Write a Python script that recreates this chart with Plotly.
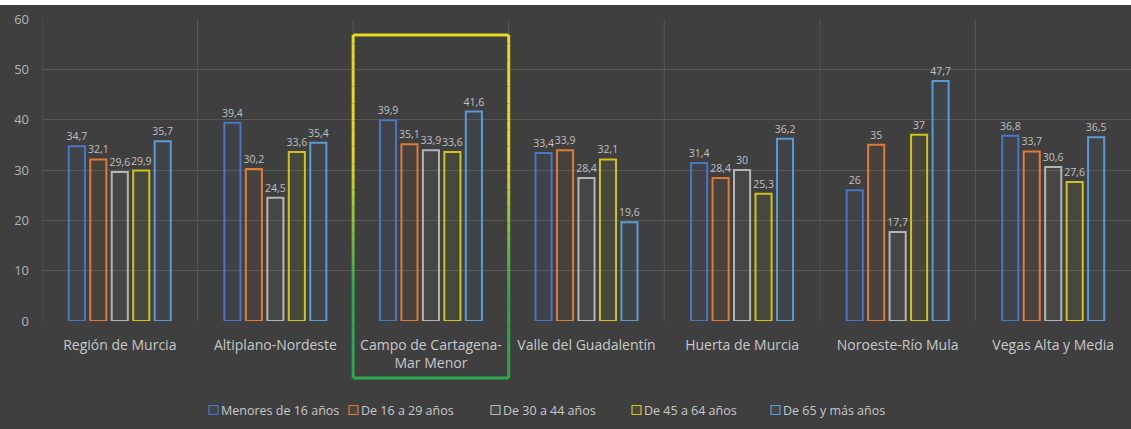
import plotly.graph_objects as go

# datos
comarcas = [
    "Región de Murcia",
    "Altiplano-Nordeste",
    "Campo de Cartagena-<br>Mar Menor",
    "Valle del Guadalentín",
    "Huerta de Murcia",
    "Noroeste-Río Mula",
    "Vegas Alta y Media",
]
grupos = [
    "Menores de 16 años",
    "De 16 a 29 años",
    "De 30 a 44 años",
    "De 45 a 64 años",
    "De 65 y más años",
]
menores_16 = [34.7, 39.4, 39.9, 33.4, 31.4, 26, 36.8]
de_16_29 = [32.1, 30.2, 35.1, 33.9, 28.4, 35, 33.7]
de_30_44 = [29.6, 24.5, 33.9, 28.4, 30, 17.7, 30.6]
de_45_64 = [29.9, 33.6, 33.6, 32.1, 25.3, 37, 27.6]
de_65_mas = [35.7, 35.4, 41.6, 19.6, 36.2, 47.7, 36.5]
y_ticks = [0, 10, 20, 30, 40, 50, 60]

series = [menores_16, de_16_29, de_30_44, de_45_64, de_65_mas]
colores = ["#4A76C6", "#E07B36", "#B4B4B4", "#CFC41E", "#5B9BD5"]

BG = "#3f3f3f"
GRID = "#575757"
TXT = "#c8c8c8"
FONT = "Open Sans, Noto Sans, sans-serif"

# área de trazado en píxeles (para convertir posiciones del marco y la leyenda)
W, H = 1131, 429
M_L, M_R, M_T, M_B = 42, 0, 19, 108
PW, PH = W - M_L - M_R, H - M_T - M_B


def px_x(p):
    return (p - M_L) / PW


def px_y(p):
    return (H - M_B - p) / PH


def _rgba(hex_color: str, alpha: float) -> str:
    h = hex_color.lstrip("#")
    return f"rgba({int(h[0:2], 16)}, {int(h[2:4], 16)}, {int(h[4:6], 16)}, {alpha})"


def _mix(c1, c2, t):
    a = [int(c1[i:i + 2], 16) for i in (1, 3, 5)]
    b = [int(c2[i:i + 2], 16) for i in (1, 3, 5)]
    return "rgb({}, {}, {})".format(*[round(a[k] + (b[k] - a[k]) * t) for k in range(3)])


fig = go.Figure()
for nombre, valores, color in zip(grupos, series, colores):
    fig.add_trace(
        go.Bar(
            x=comarcas,
            y=valores,
            name=nombre,
            marker={"color": _rgba(color, 0.06), "line": {"color": color, "width": 2}},
            texttemplate="%{y}",
            textposition="outside",
            constraintext="none",
            textfont={"size": 10.5, "color": "#c0c0c0", "family": FONT},
            cliponaxis=False,
            showlegend=False,
        )
    )

# leyenda dibujada a mano: cuadrado pequeño + texto pegado
leyenda_px = [209, 349, 491, 632, 771]
ley_y = px_y(410)
for nombre, color, p in zip(grupos, colores, leyenda_px):
    fig.add_shape(type="rect", xref="paper", yref="paper",
                  x0=px_x(p), x1=px_x(p + 9), y0=ley_y - 4.5 / PH, y1=ley_y + 4.5 / PH,
                  line={"color": color, "width": 1.2}, fillcolor=_rgba(color, 0.08))
    fig.add_annotation(x=px_x(p + 10), y=ley_y, xref="paper", yref="paper", text=nombre,
                       showarrow=False, xanchor="left", yanchor="middle",
                       font={"size": 12.5, "color": TXT, "family": FONT})

# marco degradado (amarillo -> verde) alrededor de Campo de Cartagena
top_y, bot_y = px_y(35), px_y(378)
amarillo, verde = "#E4DA22", "#2EA84E"
pasos = 40
for i in range(pasos):
    ya = top_y - (top_y - bot_y) * i / pasos
    yb = top_y - (top_y - bot_y) * (i + 1) / pasos
    t = (i + 0.5) / pasos
    k = min(max((t - 0.35) / 0.4, 0), 1)
    col = _mix(amarillo, verde, k)
    for xs in (1.5, 2.5):
        fig.add_shape(type="line", xref="x", yref="paper", x0=xs, x1=xs, y0=ya, y1=yb,
                      line={"color": col, "width": 3})
fig.add_shape(type="line", xref="x", yref="paper", x0=1.5, x1=2.5, y0=top_y, y1=top_y,
              line={"color": amarillo, "width": 3})
fig.add_shape(type="line", xref="x", yref="paper", x0=1.5, x1=2.5, y0=bot_y, y1=bot_y,
              line={"color": verde, "width": 3})

# franja blanca superior
fig.add_shape(type="rect", xref="paper", yref="paper", x0=-0.05, x1=1.05, y0=px_y(5), y1=px_y(-5),
              fillcolor="white", line={"width": 0}, layer="above")

fig.update_layout(
    width=W,
    height=H,
    paper_bgcolor=BG,
    plot_bgcolor=BG,
    margin={"l": M_L, "r": M_R, "t": M_T, "b": M_B},
    barmode="group",
    bargap=0.31,
    bargroupgap=0.25,
    separators=",.",
    font={"family": FONT, "color": TXT, "size": 12},
    showlegend=False,
    xaxis={
        "showgrid": False,
        "showline": False,
        "ticks": "",
        "ticklabelstandoff": 14,
        "tickfont": {"size": 14, "color": TXT},
        "range": [-0.5, 6.5],
    },
    yaxis={
        "range": [0, 60],
        "tickvals": y_ticks,
        "gridcolor": GRID,
        "gridwidth": 1,
        "zeroline": False,
        "showline": False,
        "ticklabelstandoff": 12,
        "tickfont": {"size": 13, "color": "#b4b4b4"},
    },
)

# líneas verticales entre comarcas
for b in range(len(comarcas)):
    fig.add_shape(type="line", xref="x", yref="paper", x0=b - 0.5, x1=b - 0.5, y0=0, y1=1,
                  line={"color": GRID, "width": 1}, layer="below")

fig.write_html("out.html", config={"displayModeBar": False},
               post_script="document.body.style.margin='0';")
